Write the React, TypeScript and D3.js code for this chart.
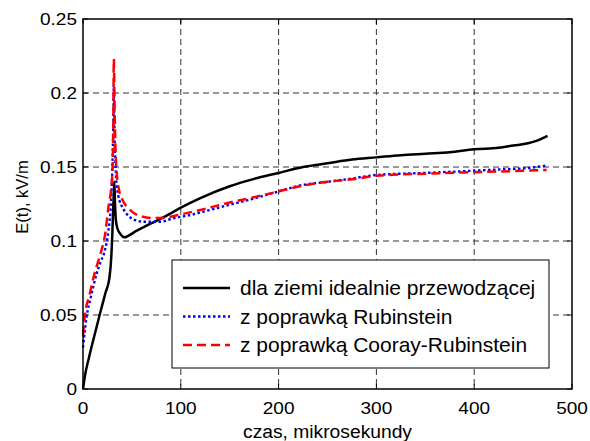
import React, { useEffect, useRef } from 'react';
import * as d3 from 'd3';

// czas [us] i E(t) [kV/m]
const tIdeal = [0, 2, 6, 12, 17, 23, 27, 29, 30, 30.7, 31.5, 32, 32.6, 33.5, 35, 38, 42, 55, 70, 85, 100, 120, 150, 175, 200, 225, 250, 275, 300, 325, 350, 375, 400, 425, 440, 455, 465, 475];
const eIdeal = [0, 0.009, 0.021, 0.037, 0.05, 0.065, 0.075, 0.09, 0.105, 0.119, 0.132, 0.140, 0.128, 0.115, 0.109, 0.105, 0.1025, 0.107, 0.112, 0.117, 0.1225, 0.129, 0.137, 0.142, 0.146, 0.15, 0.1525, 0.155, 0.1565, 0.158, 0.159, 0.16, 0.162, 0.163, 0.1645, 0.166, 0.168, 0.171];

const tRub = [0, 4, 8, 14, 18, 22.5, 26, 28, 30, 31, 31.5, 32.3, 33, 33.8, 36, 41, 45, 52, 62, 79, 92, 110, 130, 150, 171, 200, 222, 250, 273, 300, 350, 400, 427, 450, 474];
const eRub = [0.028, 0.05, 0.062, 0.078, 0.086, 0.094, 0.107, 0.12, 0.15, 0.18, 0.205, 0.17, 0.155, 0.1435, 0.131, 0.122, 0.118, 0.1145, 0.113, 0.113, 0.1153, 0.1176, 0.121, 0.1245, 0.128, 0.1335, 0.1375, 0.14, 0.142, 0.1446, 0.146, 0.1475, 0.1484, 0.149, 0.151];

const tCooray = [0, 2, 6.5, 11, 15, 19, 22.5, 26, 29, 30.3, 31, 31.5, 32.3, 33, 34.5, 37, 41, 48, 58, 70, 80, 100, 120, 150, 171, 200, 222, 250, 273, 300, 350, 400, 427, 450, 474];
const eCooray = [0.036, 0.05, 0.063, 0.076, 0.085, 0.094, 0.104, 0.123, 0.137, 0.15, 0.18, 0.223, 0.19, 0.168, 0.146, 0.134, 0.127, 0.121, 0.117, 0.1155, 0.1155, 0.118, 0.121, 0.126, 0.129, 0.1335, 0.137, 0.14, 0.1415, 0.144, 0.1455, 0.1465, 0.147, 0.1475, 0.148];

const xTicks = [0, 100, 200, 300, 400, 500];
const yTicks = [0, 0.05, 0.1, 0.15, 0.2, 0.25];
const yTickLabels = ['0', '0.05', '0.1', '0.15', '0.2', '0.25'];
const legendLabels = ['dla ziemi idealnie przewodzącej', 'z poprawką Rubinstein', 'z poprawką Cooray-Rubinstein'];

const App = () => {
  const ref = useRef<SVGSVGElement>(null);

  useEffect(() => {
    const W = 590, H = 441;
    const margin = { top: 19, right: 18, bottom: 52, left: 83 };
    const width = W - margin.left - margin.right;
    const height = H - margin.top - margin.bottom;
    const font = '"Liberation Sans", Arial, sans-serif';

    const root = d3.select(ref.current);
    root.selectAll('*').remove();
    root.append('rect').attr('width', W).attr('height', H).attr('fill', 'white');

    const svg = root.append('g').attr('transform', 'translate(' + margin.left + ',' + margin.top + ')');

    const x = d3.scaleLinear().domain([0, 500]).range([0, width]);
    const y = d3.scaleLinear().domain([0, 0.25]).range([height, 0]);

    // siatka
    svg.append('g').selectAll('line').data(xTicks.slice(1, -1)).enter().append('line')
      .attr('x1', d => x(d)).attr('x2', d => x(d)).attr('y1', 0).attr('y2', height)
      .attr('stroke', '#333').attr('stroke-dasharray', '6,4');
    svg.append('g').selectAll('line').data(yTicks.slice(1, -1)).enter().append('line')
      .attr('y1', d => y(d)).attr('y2', d => y(d)).attr('x1', 0).attr('x2', width)
      .attr('stroke', '#333').attr('stroke-dasharray', '6,4');

    // ticki wewnętrzne
    const tl = 5;
    xTicks.forEach(t => {
      svg.append('line').attr('x1', x(t)).attr('x2', x(t)).attr('y1', height).attr('y2', height - tl).attr('stroke', 'black');
      svg.append('line').attr('x1', x(t)).attr('x2', x(t)).attr('y1', 0).attr('y2', tl).attr('stroke', 'black');
    });
    yTicks.forEach(t => {
      svg.append('line').attr('x1', 0).attr('x2', tl).attr('y1', y(t)).attr('y2', y(t)).attr('stroke', 'black');
      svg.append('line').attr('x1', width).attr('x2', width - tl).attr('y1', y(t)).attr('y2', y(t)).attr('stroke', 'black');
    });

    // etykiety ticków (tekst w oryginale jest lekko rozciągnięty w poziomie)
    const sx = 1.12;
    svg.append('g').selectAll('text').data(xTicks).enter().append('text')
      .attr('transform', d => 'translate(' + x(d) + ',' + (height + 25) + ') scale(' + sx + ',1)')
      .attr('text-anchor', 'middle').style('font-family', font).style('font-size', '17px')
      .text(d => String(d));
    svg.append('g').selectAll('text').data(yTicks).enter().append('text')
      .attr('transform', d => 'translate(-6,' + (y(d) + 6) + ') scale(' + sx + ',1)')
      .attr('text-anchor', 'end').style('font-family', font).style('font-size', '17px')
      .text((d, i) => yTickLabels[i]);

    // krzywe
    const line = d3.line<[number, number]>().x(d => x(d[0])).y(d => y(d[1])).curve(d3.curveMonotoneX);
    const series = [
      { t: tIdeal, e: eIdeal, color: 'black', dash: null as string | null, w: 2.5 },
      { t: tRub, e: eRub, color: 'blue', dash: '2.5,2.5', w: 2.4 },
      { t: tCooray, e: eCooray, color: 'red', dash: '9,5', w: 2.5 },
    ];
    series.forEach(s => {
      svg.append('path')
        .datum(s.t.map((t, i) => [t, s.e[i]] as [number, number]))
        .attr('d', line)
        .attr('fill', 'none')
        .attr('stroke', s.color)
        .attr('stroke-width', s.w)
        .attr('stroke-dasharray', s.dash);
    });

    // ramka
    svg.append('rect').attr('width', width).attr('height', height)
      .attr('fill', 'none').attr('stroke', 'black').attr('stroke-width', 1.5);

    // legenda
    const lg = svg.append('g').attr('transform', 'translate(' + (172 - margin.left) + ',' + (260 - margin.top) + ')');
    lg.append('rect').attr('width', 377).attr('height', 108)
      .attr('fill', 'white').attr('stroke', 'black').attr('stroke-width', 1);
    series.forEach((s, i) => {
      const yy = 28 + i * 28.5;
      lg.append('line').attr('x1', 11).attr('x2', 58).attr('y1', yy).attr('y2', yy)
        .attr('stroke', s.color).attr('stroke-width', s.w).attr('stroke-dasharray', s.dash);
      lg.append('text').attr('transform', 'translate(68,' + (yy + 7) + ') scale(1.05,1)')
        .style('font-family', font).style('font-size', '20px')
        .text(legendLabels[i]);
    });

    // opisy osi
    root.append('text').attr('transform', 'translate(' + (margin.left + width / 2) + ',438) scale(1.07,1)')
      .attr('text-anchor', 'middle').style('font-family', font).style('font-size', '18px')
      .text('czas, mikrosekundy');
    root.append('text').attr('transform', 'translate(28,197) rotate(-90)')
      .attr('text-anchor', 'middle').style('font-family', font).style('font-size', '16.5px')
      .text('E(t), kV/m');
  }, []);

  return <svg ref={ref} width={590} height={441} style={{ position: 'absolute', left: 0, top: 0 }} />;
};

export default App;
